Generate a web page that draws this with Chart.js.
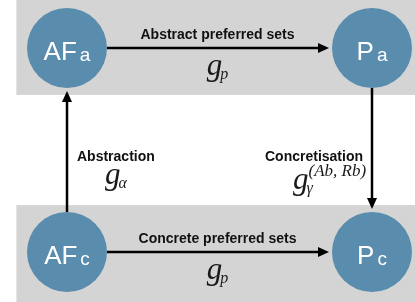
<!DOCTYPE html>
<html>
<head>
<meta charset="utf-8">
<script src="https://cdn.jsdelivr.net/npm/chart.js@4.4.0/dist/chart.umd.min.js"></script>
<style>
  html, body { margin: 0; padding: 0; background: #fff; }
  #wrap { width: 415px; height: 302px; }
</style>
</head>
<body>
<div id="wrap"><canvas id="diagram" width="415" height="302"></canvas></div>
<script>
// nodes of the diagram (grid column / row)
const nodeNames = ['AF', 'P', 'AF', 'P'];
const nodeSubs = ['a', 'a', 'c', 'c'];
const nodeCol = [0, 1, 0, 1];
const nodeRow = [0, 0, 1, 1];

// arrows between the nodes
const edgeFrom = [0, 1, 2, 2];
const edgeTo = [1, 3, 3, 0];
const edgeTitle = ['Abstract preferred sets', 'Concretisation', 'Concrete preferred sets', 'Abstraction'];
const edgeSub = ['p', 'γ', 'p', 'α'];
const edgeSup = ['', '(Ab, Rb)', '', ''];

// grey bands behind the rows
const bandRow = [0, 1];

const circleColor = '#5a8cad';
const bandColor = '#d4d4d4';
const R = 40;
const gFont = 'italic 31px "Liberation Serif"';
const subFont = 'italic 16px "Liberation Serif"';
const supFont = 'italic 17px "Liberation Serif"';

// draws g with a subscript (and maybe a superscript)
function drawMath(ctx, left, base, sub, sup) {
    ctx.textAlign = 'left';
    ctx.textBaseline = 'alphabetic';
    ctx.fillStyle = '#1a1a1a';
    ctx.font = gFont;
    ctx.fillText('g', left, base);
    const gw = ctx.measureText('g').width;
    ctx.font = subFont;
    ctx.fillText(sub, left + gw - 2, base + 4);
    if (sup) {
        ctx.font = supFont;
        ctx.fillText(sup, left + gw, base - 13);
    }
}

function mathWidth(ctx, sub, sup) {
    ctx.font = gFont;
    const gw = ctx.measureText('g').width;
    ctx.font = subFont;
    let w = ctx.measureText(sub).width - 2;
    if (sup) {
        ctx.font = supFont;
        w = Math.max(w, ctx.measureText(sup).width);
    }
    return gw + w;
}

const diagramPlugin = {
    id: 'diagram',
    beforeDatasetsDraw(chart) {
        const ctx = chart.ctx;
        const x = chart.scales.x, y = chart.scales.y;
        const area = chart.chartArea;
        ctx.save();
        // row bands
        ctx.fillStyle = bandColor;
        bandRow.forEach((r, i) => {
            const left = x.getPixelForValue(-0.166);
            const top = i === 0 ? area.top : y.getPixelForValue(r - 0.23);
            const bottom = i === bandRow.length - 1 ? area.bottom : y.getPixelForValue(r + 0.23);
            ctx.fillRect(left, top, area.right - left, bottom - top);
        });

        // arrows + labels
        edgeFrom.forEach((f, i) => {
            const t = edgeTo[i];
            const ax = x.getPixelForValue(nodeCol[f]), ay = y.getPixelForValue(nodeRow[f]);
            const bx = x.getPixelForValue(nodeCol[t]), by = y.getPixelForValue(nodeRow[t]);
            const len = Math.hypot(bx - ax, by - ay);
            const ux = (bx - ax) / len, uy = (by - ay) / len;
            const sx = ax + ux * R, sy = ay + uy * R;
            const ex = bx - ux * (R + 3), ey = by - uy * (R + 3);
            const head = 11, half = 5;
            ctx.strokeStyle = '#000';
            ctx.fillStyle = '#000';
            ctx.lineWidth = 2.5;
            ctx.beginPath();
            ctx.moveTo(sx, sy);
            ctx.lineTo(ex - ux * head, ey - uy * head);
            ctx.stroke();
            ctx.beginPath();
            ctx.moveTo(ex, ey);
            ctx.lineTo(ex - ux * head - uy * half, ey - uy * head + ux * half);
            ctx.lineTo(ex - ux * head + uy * half, ey - uy * head - ux * half);
            ctx.closePath();
            ctx.fill();

            ctx.font = 'bold 14px "Liberation Sans"';
            ctx.textBaseline = 'alphabetic';
            ctx.fillStyle = '#111';
            if (ay === by) {
                const mx = (ax + bx) / 2 - 2;
                ctx.textAlign = 'center';
                ctx.fillText(edgeTitle[i], mx, ay - 9);
                const w = mathWidth(ctx, edgeSub[i], edgeSup[i]);
                drawMath(ctx, mx - w / 2, ay + 27, edgeSub[i], edgeSup[i]);
            } else {
                const my = (ay + by) / 2;
                ctx.font = 'bold 14px "Liberation Sans"';
                const tw = ctx.measureText(edgeTitle[i]).width;
                if (uy < 0) {
                    // label right of the line
                    ctx.textAlign = 'left';
                    ctx.fillText(edgeTitle[i], ax + 10, my + 11);
                    const w = mathWidth(ctx, edgeSub[i], edgeSup[i]);
                    drawMath(ctx, ax + 10 + tw / 2 - w / 2, my + 34, edgeSub[i], edgeSup[i]);
                } else {
                    // label left of the line
                    ctx.textAlign = 'right';
                    ctx.fillText(edgeTitle[i], ax - 9, my + 11);
                    drawMath(ctx, ax - 9 - tw / 2 - 21, my + 39, edgeSub[i], edgeSup[i]);
                }
            }
        });
        ctx.restore();
    },
    afterDatasetsDraw(chart) {
        const ctx = chart.ctx;
        const meta = chart.getDatasetMeta(0);
        ctx.save();
        ctx.fillStyle = '#fff';
        ctx.textBaseline = 'alphabetic';
        ctx.textAlign = 'left';
        meta.data.forEach((pt, i) => {
            ctx.font = '26px "Liberation Sans"';
            const w1 = ctx.measureText(nodeNames[i]).width;
            ctx.font = '19px "Liberation Sans"';
            const w2 = ctx.measureText(nodeSubs[i]).width;
            const left = pt.x - (w1 + 3 + w2) / 2;
            ctx.font = '26px "Liberation Sans"';
            ctx.fillText(nodeNames[i], left, pt.y + 12);
            ctx.font = '19px "Liberation Sans"';
            ctx.fillText(nodeSubs[i], left + w1 + 3, pt.y + 13);
        });
        ctx.restore();
    }
};

new Chart(document.getElementById('diagram'), {
    type: 'scatter',
    data: {
        datasets: [{
            data: nodeCol.map((c, i) => ({x: c, y: nodeRow[i]})),
            pointRadius: R,
            pointHoverRadius: R,
            pointBackgroundColor: circleColor,
            pointBorderWidth: 0,
            clip: false
        }]
    },
    options: {
        responsive: false,
        animation: false,
        devicePixelRatio: 1,
        events: [],
        layout: { padding: 0, autoPadding: false },
        plugins: {
            legend: { display: false },
            tooltip: { enabled: false }
        },
        scales: {
            x: { type: 'linear', min: -0.21967, max: 1.14098, display: false },
            y: { type: 'linear', min: -0.23529, max: 1.2451, reverse: true, display: false }
        }
    },
    plugins: [diagramPlugin]
});
</script>
</body>
</html>
